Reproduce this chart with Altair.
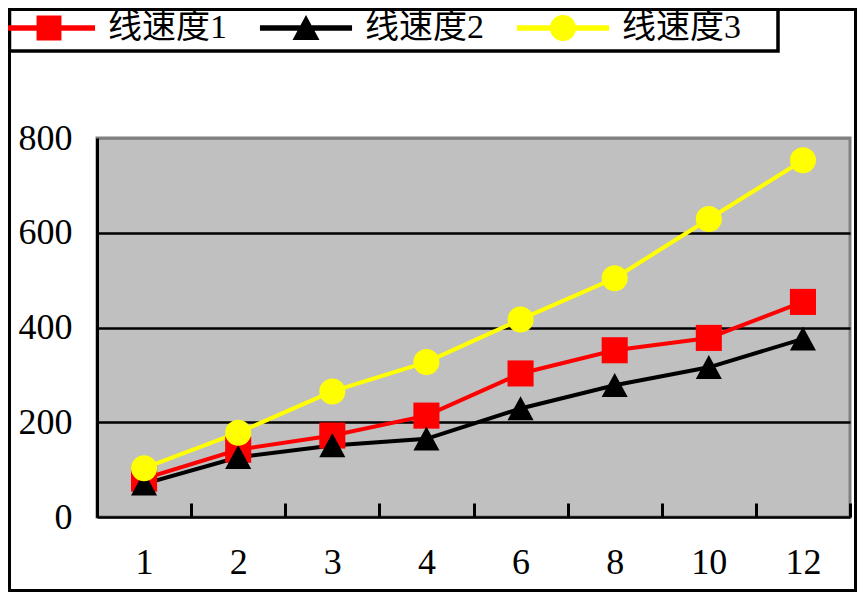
import altair as alt
import pandas as pd

# ---- data ----
categories = ["1", "2", "3", "4", "6", "8", "10", "12"]
series_names = ["线速度1", "线速度2", "线速度3"]
speed1 = [81, 142, 172, 214, 303, 352, 378, 454]
speed2 = [70, 126, 151, 165, 229, 278, 316, 376]
speed3 = [103, 178, 265, 327, 417, 504, 629, 753]
colors = ["#FF0000", "#000000", "#FFFF00"]
marker_shapes = ["square", "M0,-0.95L1,0.9L-1,0.9Z", "circle"]
y_ticks = [0, 200, 400, 600, 800]

# legend symbols: line segment + marker (unit = sqrt(size)/2 px)
legend_paths = [
    "M-3.07,-0.18H3.07V0.18H-3.07Z M-0.83,-0.83H0.83V0.83H-0.83Z",
    "M-3.07,-0.18H3.07V0.18H-3.07Z M0,-0.87L0.9,0.8L-0.9,0.8Z",
    "M-3.07,-0.18H3.07V0.18H-3.07Z M-0.87,0A0.87,0.87 0 1 1 0.87,0A0.87,0.87 0 1 1 -0.87,0Z",
]

rows = []
for name, vals in zip(series_names, [speed1, speed2, speed3]):
    for c, v in zip(categories, vals):
        rows.append({"cat": c, "series": name, "value": v})
df = pd.DataFrame(rows)

# ---- layout (svg pixels) ----
W_TOTAL, H_TOTAL = 849, 584
PAD_L, PAD_T = 89, 130
PLOT_W, PLOT_H = 753, 379
PAD_R = W_TOTAL - PAD_L - PLOT_W
PAD_B = H_TOTAL - PAD_T - PLOT_H

FONT_NUM = "Liberation Serif"
FONT_CJK = "Liberation Serif, Noto Sans CJK SC"

x_enc = alt.X(
    "cat:O",
    sort=categories,
    scale=alt.Scale(type="band", domain=categories, paddingInner=0, paddingOuter=0),
    axis=alt.Axis(
        title=None, offset=-14, domain=False, ticks=True, tickBand="extent",
        tickSize=14, tickWidth=3, tickColor="black", grid=False, labelAngle=0,
        labelFont=FONT_NUM, labelFontSize=36, labelColor="black", labelPadding=28,
    ),
)
y_enc = alt.Y(
    "value:Q",
    scale=alt.Scale(domain=[0, 800], nice=False),
    axis=alt.Axis(
        title=None, values=y_ticks, grid=True,
        gridColor={"condition": {"test": "datum.value == 800", "value": "#808080"}, "value": "black"},
        gridWidth=2.5, domain=True, domainColor="black", domainWidth=3,
        ticks=False, labelFont=FONT_NUM, labelFontSize=36, labelColor="black",
        labelPadding=25,
    ),
)
color_enc = alt.Color("series:N", scale=alt.Scale(domain=series_names, range=colors), legend=None)

base = alt.Chart(df)

lines = base.mark_line(strokeWidth=4).encode(x=x_enc, y=y_enc, color=color_enc)

points = base.mark_point(filled=True, size=680, opacity=1).encode(
    x=x_enc, y=y_enc, color=color_enc,
    shape=alt.Shape("series:N", scale=alt.Scale(domain=series_names, range=marker_shapes), legend=None),
)

leg = alt.Legend(
    title=None, orient="none", legendX=-65, legendY=-127, direction="horizontal",
    symbolSize=900, symbolStrokeWidth=0, symbolOpacity=1,
    labelFont=FONT_CJK, labelFontSize=34, labelColor="black",
    labelOffset=42, columnPadding=32, padding=0, labelLimit=300,
)
legend_layer = base.mark_point(filled=True, opacity=0, size=900).encode(
    x=x_enc, y=y_enc,
    shape=alt.Shape("series:N", scale=alt.Scale(domain=series_names, range=legend_paths), legend=leg),
    fill=alt.Fill("series:N", scale=alt.Scale(domain=series_names, range=colors), legend=leg),
)

frame_data = pd.DataFrame({"k": [0]})
outer_frame = alt.Chart(frame_data).mark_rect(fillOpacity=0, stroke="black", strokeWidth=3).encode(
    x=alt.value(-PAD_L + 1.5), x2=alt.value(W_TOTAL - PAD_L - 1.5),
    y=alt.value(-PAD_T + 1.5), y2=alt.value(H_TOTAL - PAD_T - 1.5),
)
legend_box = alt.Chart(frame_data).mark_rect(fillOpacity=0, stroke="black", strokeWidth=3.5).encode(
    x=alt.value(-PAD_L + 1.5), x2=alt.value(770 - PAD_L),
    y=alt.value(-PAD_T - 20), y2=alt.value(43 - PAD_T),
)

chart = (
    alt.layer(lines, points, legend_layer, legend_box, outer_frame)
    .resolve_scale(shape="independent", fill="independent")
    .properties(
        width=PLOT_W, height=PLOT_H,
        padding={"left": PAD_L, "top": PAD_T, "right": PAD_R, "bottom": PAD_B},
        autosize=alt.AutoSizeParams(type="none"),
        background="white",
    )
    .configure_view(fill="#C0C0C0", stroke="#808080", strokeWidth=3)
)

chart.save("out.html", embed_options={"renderer": "svg", "actions": False})
